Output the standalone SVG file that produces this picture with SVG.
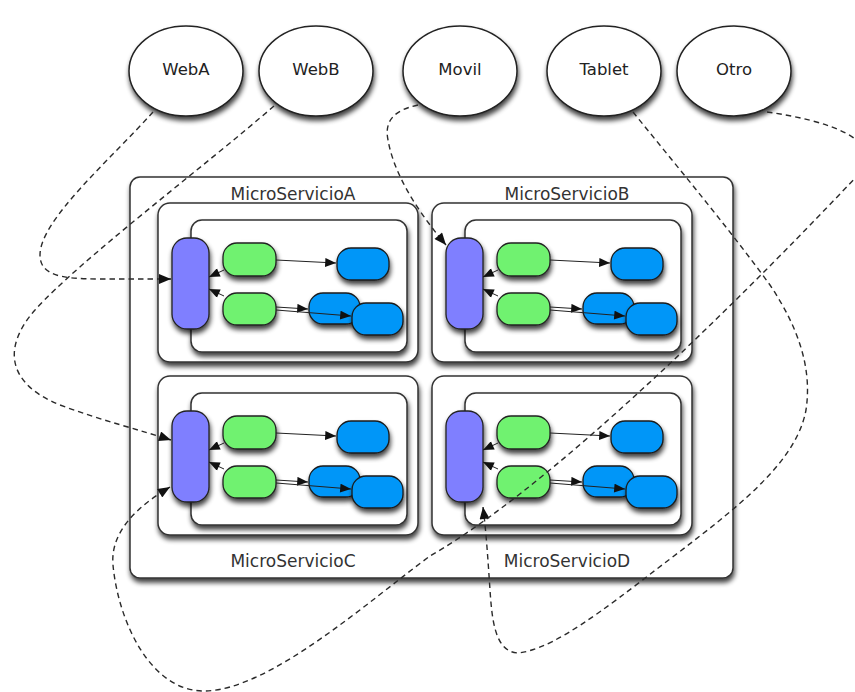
<svg xmlns="http://www.w3.org/2000/svg" width="855" height="692" viewBox="0 0 855 692">
  <defs>
    <filter id="shadow" x="-20%" y="-20%" width="140%" height="150%">
      <feGaussianBlur in="SourceAlpha" stdDeviation="2.6"/>
      <feOffset dx="1" dy="3.5" result="b"/>
      <feComponentTransfer><feFuncA type="linear" slope="0.75"/></feComponentTransfer>
      <feMerge><feMergeNode/><feMergeNode in="SourceGraphic"/></feMerge>
    </filter>
    <marker id="head" viewBox="0 0 12 10" refX="12" refY="5" markerWidth="13" markerHeight="10" markerUnits="userSpaceOnUse" orient="auto">
      <path d="M0,0 L12,5 L0,10 z" fill="#111"/>
    </marker>
    <marker id="headSmall" viewBox="0 0 12 10" refX="12" refY="5" markerWidth="13" markerHeight="9" markerUnits="userSpaceOnUse" orient="auto">
      <path d="M0,0 L12,5 L0,10 z" fill="#111"/>
    </marker>
  </defs>
  <style>
    .client { fill: #fff; stroke: #222; stroke-width: 1.5; filter: url(#shadow); }
    .box { fill: #fff; stroke: #333; stroke-width: 1.5; filter: url(#shadow); }
    .gate { fill: #7f7fff; stroke: #222; stroke-width: 1.3; filter: url(#shadow); }
    .logic { fill: #70f270; stroke: #222; stroke-width: 1.3; filter: url(#shadow); }
    .store { fill: #0096f8; stroke: #1a1a1a; stroke-width: 1.3; filter: url(#shadow); }
    .flow { fill: none; stroke: #222; stroke-width: 1; marker-end: url(#headSmall); }
    .call { fill: none; stroke: #2a2a2a; stroke-width: 1.4; stroke-dasharray: 5.5 4; marker-end: url(#head); }
    text { font-family: "DejaVu Sans", "Liberation Sans", sans-serif; fill: #222; text-anchor: middle; }
    .cname { font-size: 16.5px; }
    .sname { font-size: 17px; fill: #333; }
  </style>

  <!-- client applications -->
  <g id="client-weba"><ellipse class="client" cx="186" cy="71" rx="57" ry="45"/><text class="cname" x="186" y="75">WebA</text></g>
  <g id="client-webb"><ellipse class="client" cx="316" cy="71" rx="57" ry="45"/><text class="cname" x="316" y="75">WebB</text></g>
  <g id="client-movil"><ellipse class="client" cx="460" cy="71" rx="57" ry="45"/><text class="cname" x="460" y="75">Movil</text></g>
  <g id="client-tablet"><ellipse class="client" cx="604" cy="71" rx="57" ry="45"/><text class="cname" x="604" y="75">Tablet</text></g>
  <g id="client-otro"><ellipse class="client" cx="734" cy="71" rx="57" ry="45"/><text class="cname" x="734" y="75">Otro</text></g>

  <!-- platform boundary -->
  <g id="platform">
    <rect class="box" x="130" y="177" width="603" height="401" rx="10"/>
  </g>

  <!-- microservice A -->
  <g id="microservicio-a">
    <text class="sname" x="293" y="200">MicroServicioA</text>
    <g transform="translate(0,0)">
      <rect class="box" x="158" y="203" width="260" height="159" rx="12"/>
      <rect class="box" x="191" y="220" width="216" height="132" rx="11"/>
      <rect class="gate" x="172" y="238" width="37" height="91" rx="15"/>
      <rect class="logic" x="223" y="243" width="53" height="33" rx="14"/>
      <rect class="logic" x="223" y="293" width="53" height="32" rx="14"/>
      <rect class="store" x="337" y="248" width="52" height="32" rx="14"/>
      <rect class="store" x="309" y="293" width="51" height="31" rx="14"/>
      <rect class="store" x="352" y="303" width="51" height="32" rx="14"/>
      <path class="flow" d="M276,260 L336,263"/>
      <path class="flow" d="M276,307 L308,309"/>
      <path class="flow" d="M276,310 L351,316"/>
      <path class="flow" d="M224,270 L209,277"/>
      <path class="flow" d="M224,296 L209,289"/>
    </g>
  </g>

  <!-- microservice B -->
  <g id="microservicio-b">
    <text class="sname" x="567" y="200">MicroServicioB</text>
    <g transform="translate(274,0)">
      <rect class="box" x="158" y="203" width="260" height="159" rx="12"/>
      <rect class="box" x="191" y="220" width="216" height="132" rx="11"/>
      <rect class="gate" x="172" y="238" width="37" height="91" rx="15"/>
      <rect class="logic" x="223" y="243" width="53" height="33" rx="14"/>
      <rect class="logic" x="223" y="293" width="53" height="32" rx="14"/>
      <rect class="store" x="337" y="248" width="52" height="32" rx="14"/>
      <rect class="store" x="309" y="293" width="51" height="31" rx="14"/>
      <rect class="store" x="352" y="303" width="51" height="32" rx="14"/>
      <path class="flow" d="M276,260 L336,263"/>
      <path class="flow" d="M276,307 L308,309"/>
      <path class="flow" d="M276,310 L351,316"/>
      <path class="flow" d="M224,270 L209,277"/>
      <path class="flow" d="M224,296 L209,289"/>
    </g>
  </g>

  <!-- microservice C -->
  <g id="microservicio-c">
    <text class="sname" x="293" y="567">MicroServicioC</text>
    <g transform="translate(0,173)">
      <rect class="box" x="158" y="203" width="260" height="159" rx="12"/>
      <rect class="box" x="191" y="220" width="216" height="132" rx="11"/>
      <rect class="gate" x="172" y="238" width="37" height="91" rx="15"/>
      <rect class="logic" x="223" y="243" width="53" height="33" rx="14"/>
      <rect class="logic" x="223" y="293" width="53" height="32" rx="14"/>
      <rect class="store" x="337" y="248" width="52" height="32" rx="14"/>
      <rect class="store" x="309" y="293" width="51" height="31" rx="14"/>
      <rect class="store" x="352" y="303" width="51" height="32" rx="14"/>
      <path class="flow" d="M276,260 L336,263"/>
      <path class="flow" d="M276,307 L308,309"/>
      <path class="flow" d="M276,310 L351,316"/>
      <path class="flow" d="M224,270 L209,277"/>
      <path class="flow" d="M224,296 L209,289"/>
    </g>
  </g>

  <!-- microservice D -->
  <g id="microservicio-d">
    <text class="sname" x="567" y="567">MicroServicioD</text>
    <g transform="translate(274,173)">
      <rect class="box" x="158" y="203" width="260" height="159" rx="12"/>
      <rect class="box" x="191" y="220" width="216" height="132" rx="11"/>
      <rect class="gate" x="172" y="238" width="37" height="91" rx="15"/>
      <rect class="logic" x="223" y="243" width="53" height="33" rx="14"/>
      <rect class="logic" x="223" y="293" width="53" height="32" rx="14"/>
      <rect class="store" x="337" y="248" width="52" height="32" rx="14"/>
      <rect class="store" x="309" y="293" width="51" height="31" rx="14"/>
      <rect class="store" x="352" y="303" width="51" height="32" rx="14"/>
      <path class="flow" d="M276,260 L336,263"/>
      <path class="flow" d="M276,307 L308,309"/>
      <path class="flow" d="M276,310 L351,316"/>
      <path class="flow" d="M224,270 L209,277"/>
      <path class="flow" d="M224,296 L209,289"/>
    </g>
  </g>

  <!-- client requests routed to each service gateway -->
  <g id="connectors">
    <path class="call" d="M153,112 C110,160 40,220 40,255 C40,275 60,279 100,279 L171,279"/>
    <path class="call" d="M274,106 C200,170 80,260 35,310 C0,350 10,385 60,405 C100,420 140,430 171,440"/>
    <path class="call" d="M418,105 C395,110 384,120 388,140 C395,180 425,220 446,245"/>
    <path class="call" d="M633,112 C680,170 730,230 770,285 C800,330 812,370 806,410 C795,470 720,520 640,582 C580,628 545,650 518,653 C495,652 492,620 490,590 C488,560 486,530 483,507"/>
    <path class="call" d="M767,112 C825,120 890,140 858,175 C820,215 580,470 430,556 C370,600 270,690 205,691 C150,692 118,620 113,565 C110,530 140,505 170,487"/>
  </g>
</svg>
